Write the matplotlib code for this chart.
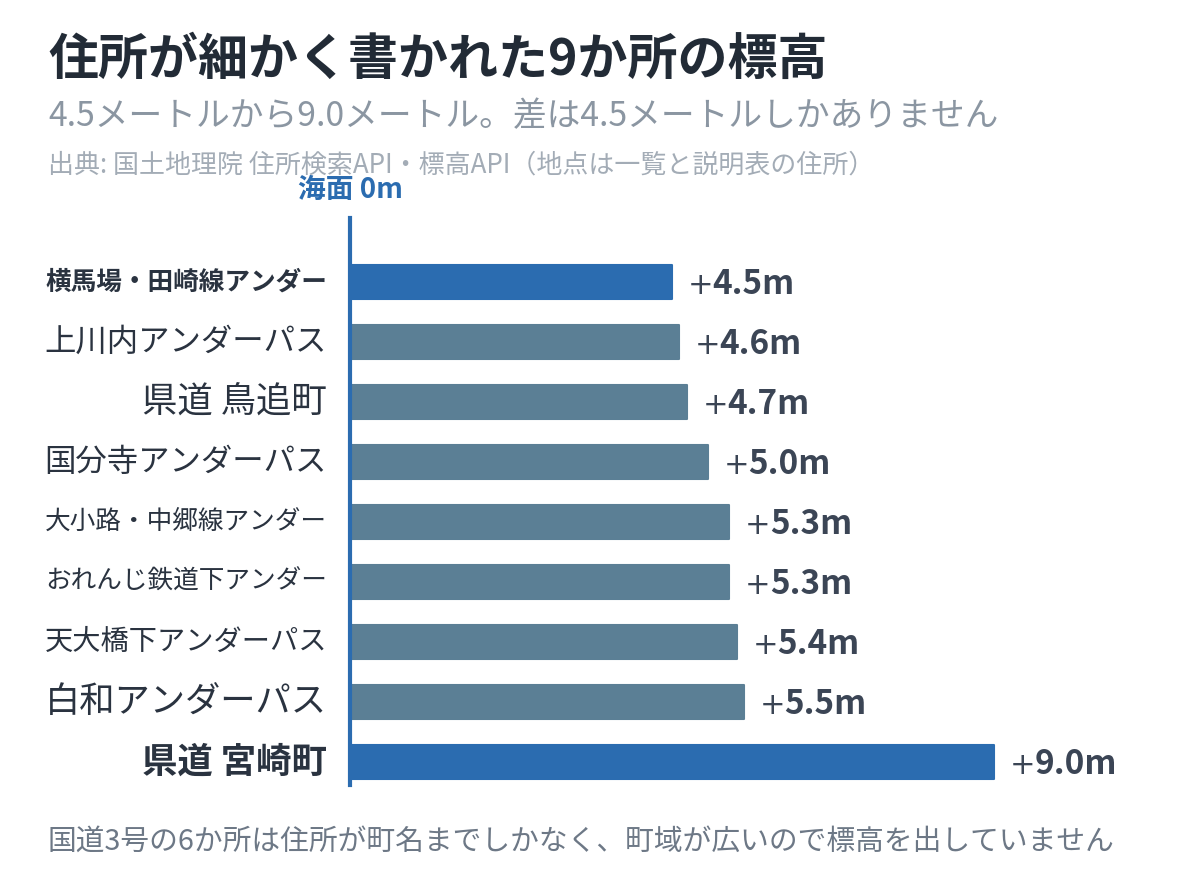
import matplotlib
matplotlib.use("Agg")
import matplotlib.pyplot as plt
from matplotlib.transforms import offset_copy

plt.rcParams['font.family'] = ['Noto Sans CJK JP', 'DejaVu Sans']

# データ（上から順）
places = ['横馬場・田崎線アンダー', '上川内アンダーパス', '県道 鳥追町', '国分寺アンダーパス',
          '大小路・中郷線アンダー', 'おれんじ鉄道下アンダー', '天大橋下アンダーパス',
          '白和アンダーパス', '県道 宮崎町']
heights = [4.5, 4.6, 4.7, 5.0, 5.3, 5.3, 5.4, 5.5, 9.0]

title = '住所が細かく書かれた9か所の標高'
subtitle = '4.5メートルから9.0メートル。差は4.5メートルしかありません'
source = '出典: 国土地理院 住所検索API・標高API（地点は一覧と説明表の住所）'
footer = '国道3号の6か所は住所が町名までしかなく、町域が広いので標高を出していません'

BLUE = '#2b6cb0'
GREY = '#5b7f95'
DARK = '#222b36'

fig = plt.figure(figsize=(12, 8.88), dpi=100)
ax = fig.add_axes([350/1200, 103/888, 800/1200, 567/888])
ax.set_xlim(0, 800/71.6)
n = len(places)
ax.set_ylim(n - 1 + 0.383, -1.067)
ax.axis('off')
r = fig.canvas.get_renderer()

hi, lo = max(heights), min(heights)
for i, (p, h) in enumerate(zip(places, heights)):
    special = h in (hi, lo)
    c = BLUE if special else GREY
    ax.barh(i, h, height=0.57, color=c, edgecolor=c, linewidth=1.5, joinstyle='round')
    # 「+」は細字、数値は太字
    plus = ax.text(h + 0.22, i + 0.06, '+', va='center', ha='left', fontsize=22,
                   family='DejaVu Sans', fontweight='normal', color='#3b4555')
    pw = plus.get_window_extent(renderer=r).width
    tr = offset_copy(ax.transData, fig=fig, x=pw - 1, y=0, units='dots')
    ax.text(h + 0.22, i + 0.04, f'{h:.1f}m', va='center', ha='left', fontsize=24,
            fontweight='bold', color='#3b4555', transform=tr)

ax.axvline(0, color=BLUE, lw=3, ymin=0, ymax=1, clip_on=False, zorder=3)

# ラベルは幅に合わせて縮める
for i, (p, h) in enumerate(zip(places, heights)):
    special = h in (hi, lo)
    t = ax.text(-0.32, i, p, ha='right', va='center', fontsize=25.5, color='#2a3340',
                fontweight='bold' if special else 'normal')
    w = t.get_window_extent(renderer=r).width
    if w > 282:
        t.set_fontsize(25.5 * 282 / w)

fig.text(48/1200, 1 - 60/888, title, fontsize=36, fontweight='bold', color=DARK, va='center')
fig.text(48/1200, 1 - 117/888, subtitle, fontsize=24.3, color='#8b96a2', va='center')
fig.text(48/1200, 1 - 165/888, source, fontsize=18.7, color='#a3acb6', va='center')
fig.text(350/1200, 1 - 190/888, '海面 0m', fontsize=20, fontweight='bold', color=BLUE,
         va='center', ha='center')
fig.text(48/1200, 1 - 842/888, footer, fontsize=20.7, color='#6d7886', va='center')

fig.savefig('out.png', dpi=100)
